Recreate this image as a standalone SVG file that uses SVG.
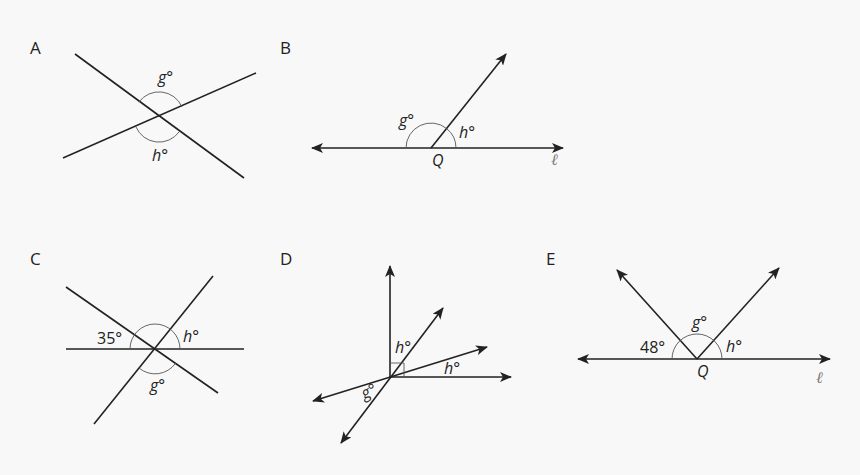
<svg xmlns="http://www.w3.org/2000/svg" width="860" height="475" viewBox="0 0 860 475">
<style>
.l{stroke:#222;stroke-width:1.6;fill:none}
.a{stroke:#555;stroke-width:0.9;fill:none}
.t{font-family:"Open Sans","Liberation Sans",sans-serif;font-size:16px;fill:#222}
.h{font-size:17px}
.i{font-style:italic}
.e{font-family:"DejaVu Serif",serif;font-size:16px;fill:#777;font-style:italic}
</style>
<defs>
<marker id="ar" viewBox="0 0 12 10" refX="11" refY="5" markerWidth="12" markerHeight="10" markerUnits="userSpaceOnUse" orient="auto-start-reverse">
<path d="M0,0 L12,5 L0,10 L3,5 Z" fill="#222"/>
</marker>
</defs>
<rect width="860" height="475" fill="#f8f8f8"/>
<g id="connectors">
<line class="l" x1="75" y1="54" x2="244" y2="178"/>
<line class="l" x1="63" y1="158" x2="256" y2="73"/>
<line class="l" x1="312" y1="148" x2="563" y2="148" marker-start="url(#ar)" marker-end="url(#ar)"/>
<line class="l" x1="431" y1="148" x2="506" y2="54" marker-end="url(#ar)"/>
<line class="l" x1="66" y1="349" x2="244" y2="349"/>
<line class="l" x1="66" y1="287" x2="218" y2="393"/>
<line class="l" x1="94" y1="424" x2="213" y2="276"/>
<line class="l" x1="390" y1="377" x2="390" y2="266" marker-end="url(#ar)"/>
<line class="l" x1="390" y1="377" x2="511" y2="377" marker-end="url(#ar)"/>
<line class="l" x1="341" y1="443" x2="443" y2="308" marker-start="url(#ar)" marker-end="url(#ar)"/>
<line class="l" x1="313" y1="401" x2="487" y2="347" marker-start="url(#ar)" marker-end="url(#ar)"/>
<line class="l" x1="578" y1="359" x2="830" y2="359" marker-start="url(#ar)" marker-end="url(#ar)"/>
<line class="l" x1="697" y1="359" x2="617" y2="270" marker-end="url(#ar)"/>
<line class="l" x1="697" y1="359" x2="779" y2="268" marker-end="url(#ar)"/>
</g>
<g id="A">
<text class="t h" x="30" y="54">A</text>
<path class="a" d="M138.8,102.2 A25,25 0 0 1 182,107"/>
<path class="a" d="M136,127 A25,25 0 0 0 179.2,131.8"/>
<text class="t i" x="158" y="83">g°</text>
<text class="t i" x="152" y="161">h°</text>
</g>
<g id="B">
<text class="t h" x="280" y="54">B</text>
<path class="a" d="M406,148 A25,25 0 0 1 446.6,128.5"/>
<path class="a" d="M446.6,128.5 A25,25 0 0 1 456,148"/>
<text class="t i" x="399" y="126">g°</text>
<text class="t i" x="459" y="138">h°</text>
<text class="t i" x="432" y="166">Q</text>
<text class="e" x="551" y="165">ℓ</text>
</g>
<g id="C">
<text class="t h" x="30" y="265">C</text>
<path class="a" d="M130,349 A25,25 0 0 1 180,349"/>
<path class="a" d="M139,368 A25,25 0 0 0 175.5,363.3"/>
<text class="t" x="97" y="344">35°</text>
<text class="t i" x="183" y="342">h°</text>
<text class="t i" x="150" y="391">g°</text>
</g>
<g id="D">
<text class="t h" x="280" y="265">D</text>
<path class="a" d="M390,363 H404 V377"/>
<text class="t i" x="395" y="353">h°</text>
<text class="t i" x="444" y="374">h°</text>
<text class="t i" x="361" y="397" transform="rotate(-25 368 391)">g°</text>
</g>
<g id="E">
<text class="t h" x="546" y="265">E</text>
<path class="a" d="M672,359 A25,25 0 0 1 722,359"/>
<text class="t" x="640" y="353">48°</text>
<text class="t i" x="692" y="328">g°</text>
<text class="t i" x="726" y="352">h°</text>
<text class="t i" x="697" y="377">Q</text>
<text class="e" x="816" y="383">ℓ</text>
</g>
</svg>
